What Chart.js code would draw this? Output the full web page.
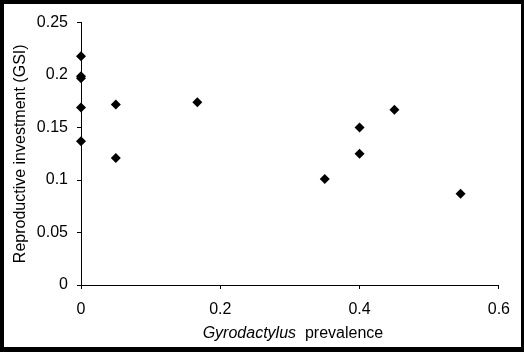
<!DOCTYPE html>
<html>
<head>
<meta charset="utf-8">
<script src="https://cdn.jsdelivr.net/npm/chart.js@4/dist/chart.umd.min.js"></script>
<style>
  html, body { margin: 0; padding: 0; background: #fff; }
  #frame {
    position: absolute; left: 0; top: 0;
    width: 524px; height: 352px; box-sizing: border-box;
    border-style: solid; border-color: #000;
    border-width: 4px 3px 5px 4px;
    background: #fff;
  }
  canvas { display: block; }
</style>
</head>
<body>
<div id="frame"><canvas id="c" width="517" height="343"></canvas></div>
<script>
// Data
const prevalence = [0, 0, 0, 0, 0, 0.05, 0.05, 0.167, 0.35, 0.4, 0.4, 0.45, 0.545];
const gsi        = [0.218, 0.199, 0.197, 0.169, 0.137, 0.172, 0.121, 0.174, 0.101, 0.150, 0.125, 0.167, 0.087];
const xTickLabels = ['0', '0.2', '0.4', '0.6'];
const yTickLabels = ['0', '0.05', '0.1', '0.15', '0.2', '0.25'];
const xTitleItalic = 'Gyrodactylus';
const xTitleRest = '  prevalence';
const yTitle = 'Reproductive investment (GSI)';

const FONT = '"Liberation Sans", Arial, sans-serif';

const xTitlePlugin = {
  id: 'xTitle',
  afterDraw(chart) {
    const ctx = chart.ctx;
    const area = chart.chartArea;
    ctx.save();
    ctx.fillStyle = '#000';
    ctx.textBaseline = 'alphabetic';
    ctx.textAlign = 'left';
    ctx.font = 'italic 16px ' + FONT;
    const w1 = ctx.measureText(xTitleItalic).width;
    ctx.font = '16px ' + FONT;
    const w2 = ctx.measureText(xTitleRest).width;
    const cx = (area.left + area.right) / 2 + 3;
    const x0 = cx - (w1 + w2) / 2;
    const y = 334;
    ctx.font = 'italic 16px ' + FONT;
    ctx.fillText(xTitleItalic, x0, y);
    ctx.font = '16px ' + FONT;
    ctx.fillText(xTitleRest, x0 + w1, y);
    ctx.restore();
  }
};

const points = prevalence.map((x, i) => ({ x: x, y: gsi[i] }));

new Chart(document.getElementById('c'), {
  type: 'scatter',
  data: {
    datasets: [{
      data: points,
      pointStyle: 'rectRot',
      pointRadius: 5,
      pointHoverRadius: 5,
      backgroundColor: '#000',
      borderColor: '#000',
      borderWidth: 0,
      clip: false
    }]
  },
  options: {
    responsive: false,
    animation: false,
    events: [],
    layout: { padding: { top: 14, right: 20, bottom: 0, left: 0 } },
    plugins: { legend: { display: false }, tooltip: { enabled: false } },
    scales: {
      x: {
        type: 'linear',
        min: 0, max: 0.6,
        afterBuildTicks(scale) {
          scale.ticks = xTickLabels.map(v => ({ value: parseFloat(v) }));
        },
        afterFit(scale) { scale.height = 62; },
        grid: { drawOnChartArea: false, drawTicks: true, tickLength: 4, color: '#000', lineWidth: 1 },
        border: { display: true, color: '#000', width: 1 },
        ticks: {
          color: '#000',
          font: { family: FONT, size: 16 },
          padding: 11,
          maxRotation: 0,
          callback: (v, i) => xTickLabels[i]
        },
        title: { display: false }
      },
      y: {
        type: 'linear',
        min: 0, max: 0.25,
        afterBuildTicks(scale) {
          scale.ticks = yTickLabels.map(v => ({ value: parseFloat(v) }));
        },
        afterFit(scale) { scale.width = 77; },
        grid: { drawOnChartArea: false, drawTicks: true, tickLength: 4, color: '#000', lineWidth: 1 },
        border: { display: true, color: '#000', width: 1 },
        ticks: {
          color: '#000',
          font: { family: FONT, size: 16 },
          padding: 9,
          callback: (v, i) => yTickLabels[i]
        },
        title: {
          display: true,
          text: yTitle,
          color: '#000',
          font: { family: FONT, size: 16 },
          padding: { top: 7, bottom: 0 }
        }
      }
    }
  },
  plugins: [xTitlePlugin]
});
</script>
</body>
</html>
